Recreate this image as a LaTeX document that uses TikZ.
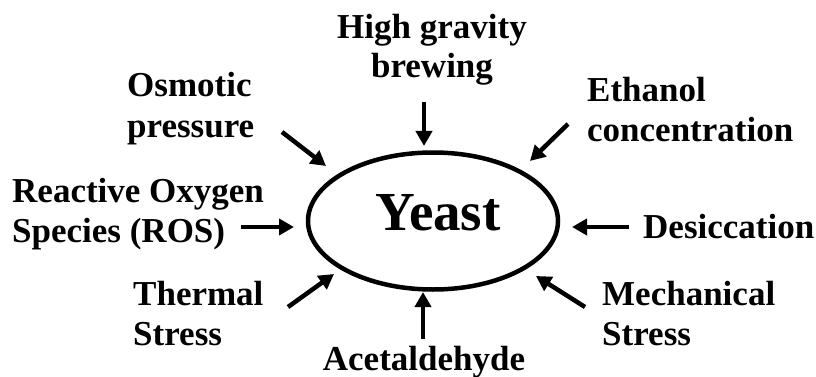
\documentclass[tikz,border=0pt]{standalone}
\usepackage{fontspec}
\setmainfont{Liberation Serif}
\usetikzlibrary{shapes.geometric,arrows.meta}
\begin{document}
\begin{tikzpicture}[x=1pt,y=-1pt,
  lbl/.style={font=\bfseries\fontsize{35}{40}\selectfont, inner sep=0pt, align=left},
  lblc/.style={font=\bfseries\fontsize{35}{39}\selectfont, inner sep=0pt, align=center},
  arr/.style={line width=4.5pt, -{Triangle[length=15pt,width=16pt]}, shorten >=0pt}
  ]
\useasboundingbox (0,0) rectangle (816,377);
\node[draw, ellipse, line width=4.5pt, minimum width=250pt, minimum height=137pt, inner sep=0pt] (yeast) at (433,221) {};
\node[font=\bfseries\fontsize{55}{60}\selectfont, inner sep=0pt, anchor=base] (yt) at (438,230) {Yeast};

\node[lblc, anchor=base] (hg) at (432,78) {High gravity\\brewing};
\node[lbl, anchor=base west] (os) at (127,137) {Osmotic\\pressure};
\node[lbl, anchor=base west] (et) at (587,142) {Ethanol\\concentration};
\node[lbl, anchor=base west] (ros) at (12,242) {Reactive Oxygen\\Species (ROS)};
\node[lbl, anchor=base west] (de) at (643,238) {Desiccation};
\node[lbl, anchor=base west] (th) at (133,345) {Thermal\\Stress};
\node[lbl, anchor=base west] (me) at (602,345) {Mechanical\\Stress};
\node[lbl, anchor=base] (ac) at (424,370) {Acetaldehyde};

\coordinate (hgA) at (424,102); \coordinate (hgB) at (424,146);
\coordinate (osA) at (282,132); \coordinate (osB) at (326,166);
\coordinate (etA) at (568,124); \coordinate (etB) at (530,161);
\coordinate (rosA) at (241,227); \coordinate (rosB) at (294,227);
\coordinate (deA) at (629,227); \coordinate (deB) at (572,227);
\coordinate (thA) at (288,307); \coordinate (thB) at (334,274);
\coordinate (meA) at (585,307); \coordinate (meB) at (536,276);
\coordinate (acA) at (423,339); \coordinate (acB) at (423,292);

\draw[arr] (hgA) -- (hgB);
\draw[arr] (osA) -- (osB);
\draw[arr] (etA) -- (etB);
\draw[arr] (rosA) -- (rosB);
\draw[arr] (deA) -- (deB);
\draw[arr] (thA) -- (thB);
\draw[arr] (meA) -- (meB);
\draw[arr] (acA) -- (acB);
\end{tikzpicture}
\end{document}
